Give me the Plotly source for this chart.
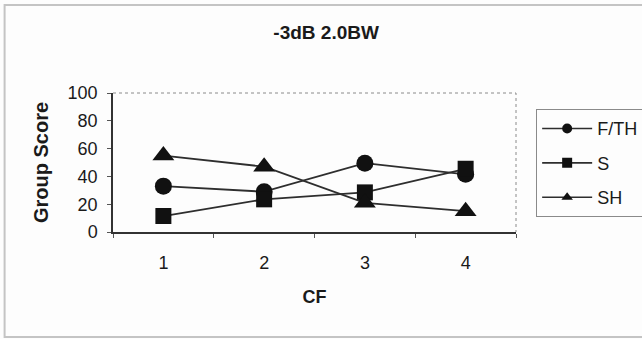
import plotly.graph_objects as go

# Centre-frequency categories and group scores per phoneme group
cf_labels = ["1", "2", "3", "4"]
fth_scores = [33, 29, 49.5, 41.5]
s_scores = [11.5, 23.5, 28.5, 45.5]
sh_scores = [55, 47, 21, 15]

series = [
    ("F/TH", fth_scores, "circle", 17),
    ("S", s_scores, "square", 16),
    ("SH", sh_scores, "triangle-up", 19),
]

FONT = "Liberation Sans, Arial, sans-serif"
LINE_COL = "#2e2e2e"
MARK_COL = "#111111"

fig = go.Figure()

for i, (name, vals, sym, size) in enumerate(series):
    fig.add_trace(go.Scatter(
        x=cf_labels, y=vals, mode="lines+markers", name=name,
        line=dict(color=LINE_COL, width=1.8),
        marker=dict(symbol=sym, size=size, color=MARK_COL),
        showlegend=False, cliponaxis=False,
    ))
    # smaller markers for the legend key
    fig.add_trace(go.Scatter(
        x=[None], y=[None], mode="lines+markers", name=name,
        legendgroup=f"g{i}",
        line=dict(color=LINE_COL, width=1.6),
        marker=dict(symbol=sym, size=10, color=MARK_COL),
    ))

# dotted top/right frame of the plot area
fig.add_shape(type="path", xref="paper", yref="paper",
              path="M 0 1 L 1 1 L 1 0",
              line=dict(color="#8a8a8a", width=1, dash="dot"))
# outer chart border
fig.add_shape(type="rect", xref="paper", yref="paper",
              x0=-0.269, x1=1.35, y0=-0.755, y1=1.633,
              line=dict(color="#c4c4c4", width=2))

fig.update_layout(
    width=642, height=339,
    margin=dict(l=113, r=126, t=93, b=107, autoexpand=False),
    paper_bgcolor="#fdfdfd", plot_bgcolor="#fdfdfd",
    font=dict(family=FONT, color="#1a1a1a", size=18),
    title=dict(text="<b>-3dB 2.0BW</b>", x=0.508, xanchor="center",
               y=0.905, yanchor="middle", font=dict(size=19)),
    legend=dict(x=1.05, xanchor="left", y=0.883, yanchor="top",
                bordercolor="#8a8a8a", borderwidth=1,
                bgcolor="#fdfdfd", font=dict(size=18),
                tracegroupgap=8, itemwidth=50),
    showlegend=True,
)

fig.update_xaxes(
    type="category", range=[-0.5, 3.5],
    showgrid=False, zeroline=False,
    showline=True, linecolor="#333333", linewidth=1.5,
    ticks="outside", tickson="boundaries", ticklen=4, tickcolor="#555555",
    ticklabelstandoff=14, tickfont=dict(size=18),
    title=dict(text="<b>CF</b>", font=dict(size=18), standoff=18),
)
fig.update_yaxes(
    range=[0, 100], tickvals=[0, 20, 40, 60, 80, 100],
    showgrid=False, zeroline=False,
    showline=True, linecolor="#333333", linewidth=1.5,
    ticks="outside", ticklen=4, tickcolor="#555555",
    ticklabelstandoff=6, tickfont=dict(size=18),
    title=dict(text="<b>Group Score</b>", font=dict(size=20), standoff=14),
)

fig.write_html("out.html")
